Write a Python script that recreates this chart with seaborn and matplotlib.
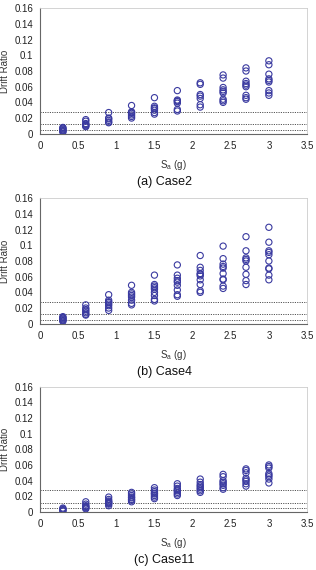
import matplotlib
matplotlib.use("Agg")
import matplotlib.pyplot as plt
import pandas as pd
import seaborn as sns

# --- Data ---------------------------------------------------------------------
sa_levels = [0.3, 0.6, 0.9, 1.2, 1.5, 1.8, 2.1, 2.4, 2.7, 3.0]

case2 = [
    [0.002, 0.003, 0.004, 0.005, 0.006, 0.007, 0.008],
    [0.009, 0.010, 0.011, 0.012, 0.013, 0.016, 0.018],
    [0.014, 0.015, 0.017, 0.019, 0.020, 0.027],
    [0.020, 0.022, 0.024, 0.026, 0.027, 0.028, 0.036],
    [0.025, 0.027, 0.030, 0.032, 0.033, 0.035, 0.046],
    [0.029, 0.031, 0.039, 0.041, 0.042, 0.043, 0.055],
    [0.034, 0.037, 0.045, 0.048, 0.050, 0.063, 0.065],
    [0.040, 0.042, 0.044, 0.052, 0.054, 0.056, 0.059, 0.071, 0.075],
    [0.044, 0.046, 0.049, 0.060, 0.062, 0.064, 0.067, 0.080, 0.084],
    [0.049, 0.052, 0.055, 0.066, 0.068, 0.070, 0.076, 0.088, 0.093],
]

case4 = [
    [0.003, 0.004, 0.005, 0.006, 0.007, 0.008, 0.009],
    [0.011, 0.012, 0.014, 0.016, 0.018, 0.020, 0.024],
    [0.017, 0.020, 0.023, 0.025, 0.027, 0.028, 0.030, 0.037],
    [0.024, 0.026, 0.030, 0.034, 0.036, 0.038, 0.040, 0.049],
    [0.029, 0.031, 0.036, 0.040, 0.044, 0.046, 0.048, 0.050, 0.062],
    [0.035, 0.037, 0.043, 0.049, 0.053, 0.055, 0.058, 0.062, 0.075],
    [0.040, 0.042, 0.050, 0.056, 0.061, 0.063, 0.064, 0.068, 0.072, 0.087],
    [0.045, 0.048, 0.056, 0.057, 0.064, 0.071, 0.073, 0.076, 0.083, 0.099],
    [0.050, 0.055, 0.063, 0.072, 0.080, 0.082, 0.084, 0.093, 0.111],
    [0.056, 0.062, 0.070, 0.071, 0.080, 0.088, 0.091, 0.093, 0.104, 0.123],
]

case11 = [
    [0.001, 0.002, 0.003, 0.004, 0.005],
    [0.004, 0.005, 0.006, 0.007, 0.008, 0.010, 0.013],
    [0.008, 0.010, 0.011, 0.012, 0.013, 0.014, 0.016, 0.019],
    [0.013, 0.015, 0.016, 0.018, 0.019, 0.021, 0.023, 0.025],
    [0.017, 0.019, 0.021, 0.023, 0.024, 0.026, 0.028, 0.031],
    [0.021, 0.023, 0.025, 0.027, 0.028, 0.030, 0.033, 0.036],
    [0.025, 0.027, 0.029, 0.031, 0.033, 0.035, 0.038, 0.042],
    [0.029, 0.031, 0.034, 0.036, 0.038, 0.040, 0.045, 0.048],
    [0.033, 0.036, 0.039, 0.041, 0.043, 0.050, 0.053, 0.055],
    [0.037, 0.042, 0.045, 0.047, 0.049, 0.056, 0.058, 0.060],
]

limit_lines = [0.028, 0.012, 0.005]
captions = ["(a) Case2", "(b) Case4", "(c) Case11"]
x_ticks = [0, 0.5, 1, 1.5, 2, 2.5, 3, 3.5]
x_tick_labels = ["0", "0.5", "1", "1.5", "2", "2.5", "3", "3.5"]
y_ticks = [0, 0.02, 0.04, 0.06, 0.08, 0.1, 0.12, 0.14, 0.16]
y_tick_labels = ["0", "0.02", "0.04", "0.06", "0.08", "0.1", "0.12", "0.14", "0.16"]


def to_frame(case):
    rows = [(sa, d) for sa, vals in zip(sa_levels, case) for d in vals]
    return pd.DataFrame(rows, columns=["sa", "drift"])


# --- Plot ---------------------------------------------------------------------
sns.set_style("white")
plt.rcParams["font.family"] = ["Liberation Sans", "DejaVu Sans"]

fig = plt.figure(figsize=(3.16, 5.70), dpi=100)
bottoms = [0.7654, 0.4321, 0.1018]

for case, bottom, caption in zip([case2, case4, case11], bottoms, captions):
    ax = fig.add_axes([0.1266, bottom, 0.845, 0.22])
    df = to_frame(case)
    for yv in limit_lines:
        ax.axhline(yv, color="#555555", linestyle=(0, (1.2, 1.2)), linewidth=0.7, zorder=1)
    sns.scatterplot(data=df, x="sa", y="drift", ax=ax, marker="o", s=20,
                    facecolors="none", edgecolor="#3a3aa0", linewidth=0.8, zorder=3)
    ax.set_xlim(0, 3.5)
    ax.set_ylim(0, 0.16)
    ax.set_xticks(x_ticks)
    ax.set_xticklabels(x_tick_labels)
    ax.set_yticks(y_ticks)
    ax.set_yticklabels(y_tick_labels)
    ax.tick_params(axis="both", labelsize=7, length=3, width=0.6,
                   direction="out", colors="#444444", pad=2)
    ax.tick_params(axis="both", labelcolor="#222222")
    for side in ["left", "bottom"]:
        ax.spines[side].set_color("#666666")
        ax.spines[side].set_linewidth(0.8)
    for side in ["top", "right"]:
        ax.spines[side].set_color("#cccccc")
        ax.spines[side].set_linewidth(0.6)
    ax.set_xlabel("S$_\\mathregular{a}$ (g)", fontsize=7, color="#333333", labelpad=5)
    ax.set_ylabel("Drift Ratio", fontsize=7, color="#333333", labelpad=3)
    fig.text(0.52, bottom - 0.085, caption, ha="center", va="center",
             fontsize=9, color="#111111")

fig.savefig("out.png", dpi=100)
plt.close(fig)
